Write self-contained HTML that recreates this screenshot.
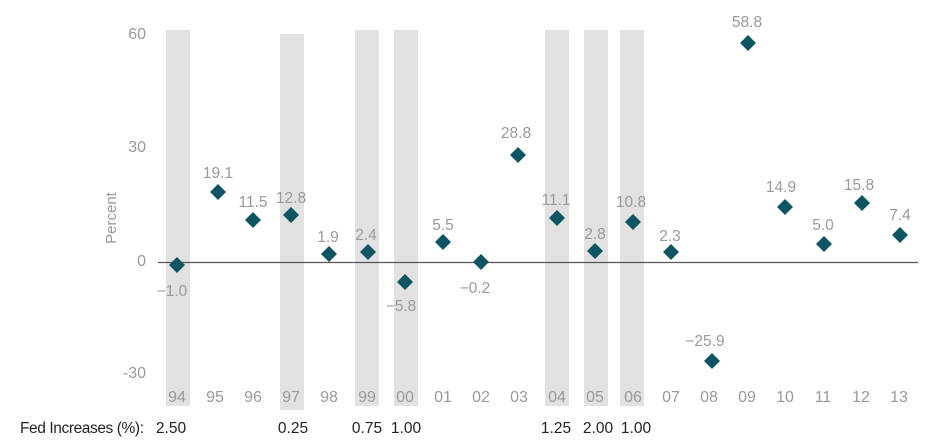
<!DOCTYPE html>
<html><head><meta charset="utf-8"><style>
html,body{margin:0;padding:0;background:#fff;}
svg{display:block;font-family:"Liberation Sans",sans-serif;}
</style></head><body>
<svg width="946" height="443" viewBox="0 0 946 443">
<g fill="#e1e1e2">
<rect x="166" y="30" width="24" height="376"/>
<rect x="280" y="34" width="24" height="376"/>
<rect x="355" y="30" width="24" height="376"/>
<rect x="394" y="30" width="24" height="376"/>
<rect x="545" y="30" width="24" height="376"/>
<rect x="584" y="30" width="24" height="376"/>
<rect x="620" y="30" width="24" height="376"/>
</g>
<line x1="158" y1="262.5" x2="918" y2="262.5" stroke="#555" stroke-width="1.3"/>
<g fill="#999" font-size="16" text-anchor="end">
<text x="146" y="39">60</text>
<text x="146" y="152">30</text>
<text x="146" y="266">0</text>
<text x="146" y="378">-30</text>
</g>
<text transform="translate(116,218) rotate(-90)" fill="#999" font-size="15" text-anchor="middle">Percent</text>
<g fill="#0e5563">
<path d="M177 257l8 8-8 8-8-8z"/>
<path d="M218 184l8 8-8 8-8-8z"/>
<path d="M253 212l8 8-8 8-8-8z"/>
<path d="M291 207l8 8-8 8-8-8z"/>
<path d="M329 246l8 8-8 8-8-8z"/>
<path d="M368 244l8 8-8 8-8-8z"/>
<path d="M405 274l8 8-8 8-8-8z"/>
<path d="M443 234l8 8-8 8-8-8z"/>
<path d="M481 254l8 8-8 8-8-8z"/>
<path d="M518 147l8 8-8 8-8-8z"/>
<path d="M557 210l8 8-8 8-8-8z"/>
<path d="M595 243l8 8-8 8-8-8z"/>
<path d="M633 214l8 8-8 8-8-8z"/>
<path d="M671 244l8 8-8 8-8-8z"/>
<path d="M712 353l8 8-8 8-8-8z"/>
<path d="M748 35l8 8-8 8-8-8z"/>
<path d="M785 199l8 8-8 8-8-8z"/>
<path d="M824 236l8 8-8 8-8-8z"/>
<path d="M862 195l8 8-8 8-8-8z"/>
<path d="M900 227l8 8-8 8-8-8z"/>
</g>
<g fill="#999" font-size="15.5" text-anchor="middle">
<text x="172" y="296">−1.0</text>
<text x="218" y="178">19.1</text>
<text x="253" y="207">11.5</text>
<text x="291" y="203">12.8</text>
<text x="328" y="242">1.9</text>
<text x="366" y="240">2.4</text>
<text x="401" y="311">−5.8</text>
<text x="443" y="230">5.5</text>
<text x="475" y="293">−0.2</text>
<text x="516" y="138">28.8</text>
<text x="556" y="205">11.1</text>
<text x="595" y="239">2.8</text>
<text x="631" y="207">10.8</text>
<text x="670" y="241">2.3</text>
<text x="705" y="346">−25.9</text>
<text x="747" y="27">58.8</text>
<text x="781" y="192">14.9</text>
<text x="823" y="230">5.0</text>
<text x="859" y="190">15.8</text>
<text x="900" y="220">7.4</text>
</g>
<g fill="#999" font-size="16" text-anchor="middle">
<text x="177" y="402">94</text><text x="215" y="402">95</text><text x="253" y="402">96</text><text x="291" y="402">97</text><text x="329" y="402">98</text><text x="367" y="402">99</text><text x="405" y="402">00</text><text x="443" y="402">01</text><text x="481" y="402">02</text><text x="519" y="402">03</text><text x="557" y="402">04</text><text x="595" y="402">05</text><text x="633" y="402">06</text><text x="671" y="402">07</text><text x="709" y="402">08</text><text x="747" y="402">09</text><text x="785" y="402">10</text><text x="823" y="402">11</text><text x="861" y="402">12</text><text x="899" y="402">13</text>
</g>
<g fill="#222" font-size="15.5">
<text x="20" y="433" textLength="124">Fed Increases (%):</text>
<g text-anchor="middle">
<text x="171" y="433">2.50</text>
<text x="293" y="433">0.25</text>
<text x="367" y="433">0.75</text>
<text x="406" y="433">1.00</text>
<text x="556" y="433">1.25</text>
<text x="598" y="433">2.00</text>
<text x="636" y="433">1.00</text>
</g></g>
</svg>
</body></html>
